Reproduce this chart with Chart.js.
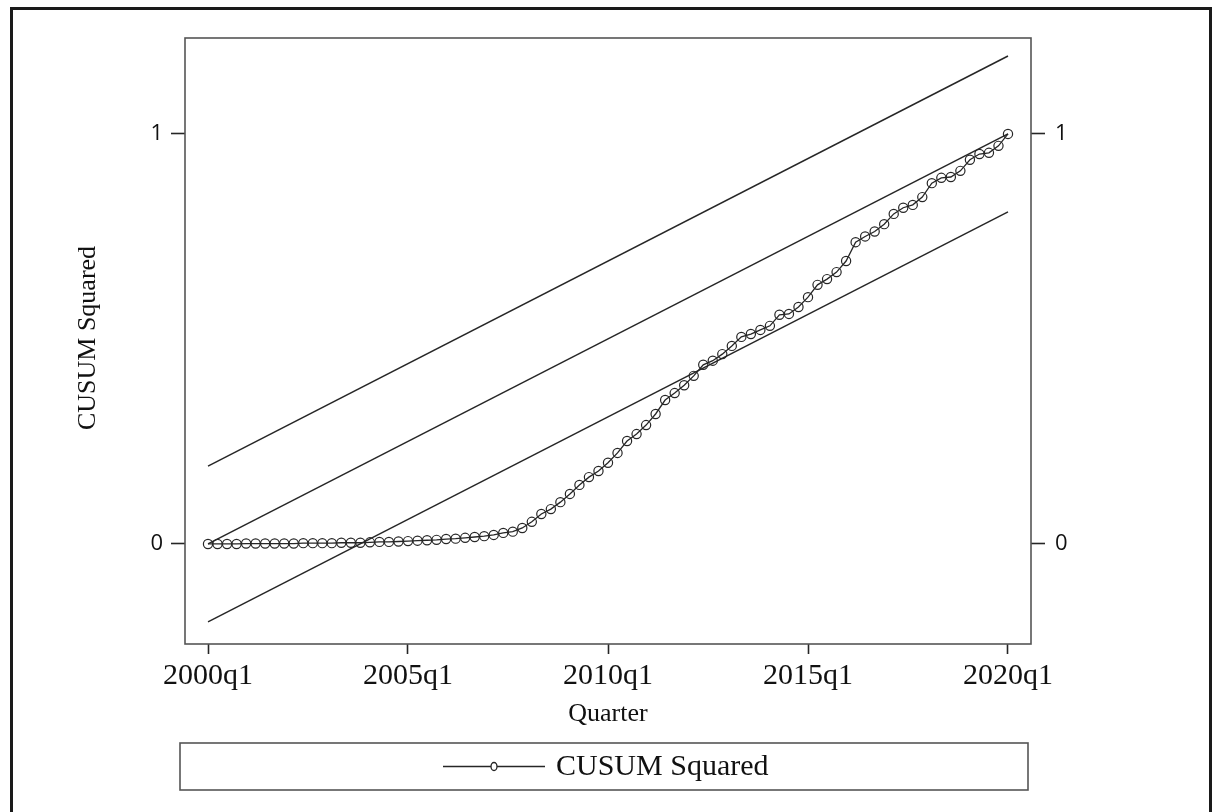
<!DOCTYPE html>
<html>
<head>
<meta charset="utf-8">
<title>CUSUM Squared</title>
<script src="https://cdn.jsdelivr.net/npm/chart.js@4.4.1/dist/chart.umd.min.js"></script>
<style>
  html, body { margin: 0; padding: 0; background: #ffffff; }
  #wrap { width: 1216px; height: 812px; position: relative; }
  canvas { display: block; }
</style>
</head>
<body>
<div id="wrap"><canvas id="chart" width="1216" height="812"></canvas></div>
<script>
// Recursive CUSUM of squares, one value per observation (observation index 0..84)
const cusumSq = [
  0.000, 0.000, 0.000, 0.000, 0.001, 0.001, 0.001, 0.001, 0.001, 0.001,
  0.002, 0.002, 0.002, 0.002, 0.003, 0.003, 0.003, 0.004, 0.005, 0.005,
  0.006, 0.007, 0.008, 0.009, 0.010, 0.012, 0.013, 0.015, 0.017, 0.019,
  0.022, 0.027, 0.030, 0.039, 0.054, 0.073, 0.085, 0.102, 0.122, 0.144,
  0.163, 0.178, 0.198, 0.222, 0.251, 0.268, 0.290, 0.317, 0.351, 0.368,
  0.387, 0.410, 0.437, 0.447, 0.463, 0.483, 0.505, 0.512, 0.522, 0.532,
  0.559, 0.561, 0.578, 0.602, 0.632, 0.646, 0.663, 0.690, 0.736, 0.750,
  0.762, 0.780, 0.805, 0.820, 0.827, 0.846, 0.880, 0.893, 0.895, 0.910,
  0.937, 0.951, 0.954, 0.971, 1.000
];

// Expected path and 5% significance bounds (straight lines between the end observations)
const boundObs   = [0, 84];
const expected   = [0.00, 1.00];
const upperBound = [0.19, 1.19];
const lowerBound = [-0.19, 0.81];

// Axis ticks
const xTickObs    = [0, 21, 42, 63, 84];
const xTickLabels = ['2000q1', '2005q1', '2010q1', '2015q1', '2020q1'];
const yTickValues = [0, 1];

const SERIF = '"Liberation Serif", "Times New Roman", serif';
const SANS  = '"Open Sans", "Noto Sans", sans-serif';
const INK   = '#262626';
const FRAME = '#555555';

const toPoints = (xs, ys) => xs.map((x, i) => ({ x: x, y: ys[i] }));

const boundStyle = {
  borderColor: INK,
  borderWidth: 1.5,
  pointRadius: 0,
  pointHoverRadius: 0,
  fill: false,
  tension: 0
};

// Frame, plot box, axis titles and the boxed legend
const decorations = {
  id: 'decorations',
  beforeDatasetsDraw(chart) {
    const { ctx, chartArea: a } = chart;
    ctx.save();
    ctx.strokeStyle = FRAME;
    ctx.lineWidth = 1.6;
    ctx.strokeRect(a.left, a.top, a.right - a.left, a.bottom - a.top);
    ctx.restore();
  },
  afterDraw(chart) {
    const { ctx, chartArea: a } = chart;
    ctx.save();

    // outer border
    ctx.strokeStyle = '#1a1a1a';
    ctx.lineWidth = 3;
    ctx.beginPath();
    ctx.moveTo(11.5, 812);
    ctx.lineTo(11.5, 8.5);
    ctx.lineTo(1210.5, 8.5);
    ctx.lineTo(1210.5, 812);
    ctx.stroke();

    // y-axis title
    ctx.fillStyle = '#111111';
    ctx.font = '26px ' + SERIF;
    ctx.textAlign = 'center';
    ctx.textBaseline = 'middle';
    ctx.save();
    ctx.translate(88, (a.top + a.bottom) / 2 - 3);
    ctx.rotate(-Math.PI / 2);
    ctx.fillText('CUSUM Squared', 0, 0);
    ctx.restore();

    // x-axis title
    ctx.fillText('Quarter', (a.left + a.right) / 2, 714);

    // legend box
    const lx = 180, ly = 743, lw = 848, lh = 47;
    ctx.strokeStyle = FRAME;
    ctx.lineWidth = 1.6;
    ctx.strokeRect(lx, ly, lw, lh);

    const ds = chart.data.datasets[0];
    const cy = ly + lh / 2;
    ctx.strokeStyle = ds.borderColor;
    ctx.lineWidth = 1.3;
    ctx.beginPath();
    ctx.moveTo(443, cy);
    ctx.lineTo(545, cy);
    ctx.stroke();
    ctx.beginPath();
    ctx.ellipse(494, cy, 3, 4, 0, 0, Math.PI * 2);
    ctx.fillStyle = '#ffffff';
    ctx.fill();
    ctx.stroke();

    ctx.fillStyle = '#111111';
    ctx.font = '30px ' + SERIF;
    ctx.textAlign = 'left';
    ctx.textBaseline = 'middle';
    ctx.fillText(ds.label, 556, cy + 1);

    ctx.restore();
  }
};

const yScale = (position, width, pad) => ({
  type: 'linear',
  position: position,
  min: -0.244,
  max: 1.234,
  afterBuildTicks: (s) => { s.ticks = yTickValues.map(v => ({ value: v })); },
  afterFit: (s) => { s.width = width; },
  grid: {
    drawOnChartArea: false,
    drawTicks: true,
    tickLength: 14,
    tickWidth: 1.6,
    tickColor: INK
  },
  border: { display: false },
  ticks: {
    color: '#111111',
    padding: pad,
    font: { family: SANS, size: 22 },
    callback: (v) => String(v)
  }
});

new Chart(document.getElementById('chart'), {
  type: 'line',
  data: {
    datasets: [
      {
        label: 'CUSUM Squared',
        data: toPoints(cusumSq.map((_, i) => i), cusumSq),
        borderColor: INK,
        borderWidth: 1.3,
        pointRadius: 4.6,
        pointBorderWidth: 1.2,
        pointBorderColor: INK,
        pointBackgroundColor: 'rgba(255,255,255,0)',
        pointHoverRadius: 4.6,
        fill: false,
        tension: 0,
        order: 0
      },
      Object.assign({ label: 'Upper bound', data: toPoints(boundObs, upperBound), order: 1 }, boundStyle),
      Object.assign({ label: 'Expected', data: toPoints(boundObs, expected), order: 1 }, boundStyle),
      Object.assign({ label: 'Lower bound', data: toPoints(boundObs, lowerBound), order: 1 }, boundStyle)
    ]
  },
  options: {
    responsive: false,
    animation: false,
    devicePixelRatio: 1,
    layout: { padding: { top: 38, left: 0, right: 0, bottom: 0 } },
    plugins: {
      legend: { display: false },
      tooltip: { enabled: false }
    },
    scales: {
      x: {
        type: 'linear',
        position: 'bottom',
        min: -2.415,
        max: 86.415,
        afterBuildTicks: (s) => { s.ticks = xTickObs.map(v => ({ value: v })); },
        afterFit: (s) => { s.height = 168; },
        grid: {
          drawOnChartArea: false,
          drawTicks: true,
          tickLength: 10,
          tickWidth: 1.6,
          tickColor: INK
        },
        border: { display: false },
        ticks: {
          color: '#111111',
          padding: 4,
          maxRotation: 0,
          autoSkip: false,
          font: { family: SERIF, size: 30 },
          callback: (v) => {
            const k = xTickObs.indexOf(v);
            return k >= 0 ? xTickLabels[k] : '';
          }
        }
      },
      y: yScale('left', 185, 8),
      y2: yScale('right', 185, 10)
    }
  },
  plugins: [decorations]
});
</script>
</body>
</html>
